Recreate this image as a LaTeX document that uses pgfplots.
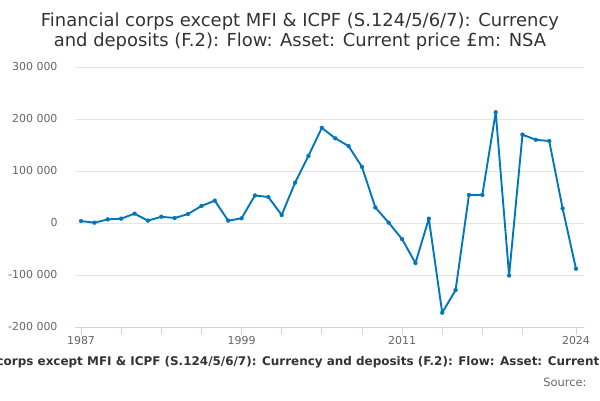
\documentclass[border=0pt]{standalone}
\usepackage{pgfplots}
\pgfplotsset{compat=1.18}
\usepackage{fontspec}
\setmainfont{DejaVu Sans}
\definecolor{linecol}{HTML}{0077BD}
\definecolor{titlecol}{HTML}{333333}
\definecolor{labcol}{HTML}{666666}
\definecolor{gridcol}{HTML}{E6E6E6}
\definecolor{axcol}{HTML}{CCD6EB}
\begin{document}
\begin{tikzpicture}[x=1bp,y=1bp]
\path[use as bounding box] (0,0) rectangle (600,400);
\clip (0,0) rectangle (600,400);
\node[text=titlecol,font=\fontsize{18}{22}\selectfont] at (300,378) {Financial corps except MFI \& ICPF (S.124/5/6/7): Currency};
\node[text=titlecol,font=\fontsize{18}{22}\selectfont] at (300,358) {and deposits (F.2): Flow: Asset: Current price £m: NSA};
\begin{axis}[
  at={(75bp,73bp)}, anchor=south west,
  width=509bp, height=260bp, scale only axis,
  xmin=1986.55, xmax=2024.6,
  ymin=-200000, ymax=300000,
  scaled y ticks=false,
  axis x line*=bottom,
  axis y line*=left,
  y axis line style={draw=none},
  x axis line style={draw=axcol, line width=0.8pt, -},
  xtick={1987,1990,1993,1996,1999,2002,2005,2008,2011,2014,2017,2020,2024},
  xticklabels={1987,,,,1999,,,,2011,,,,2024},
  tick align=outside,
  major tick length=8bp,
  xtick style={draw=axcol, line width=0.8pt},
  ytick={-200000,-100000,0,100000,200000,300000},
  yticklabels={-200 000,-100 000,0,100 000,200 000,300 000},
  ymajorgrids, grid style={draw=gridcol, line width=0.8pt},
  ytick style={draw=none},
  ticklabel style={text=labcol, font=\fontsize{11}{13}\selectfont},
  xticklabel style={yshift=2bp},
  yticklabel style={xshift=-6bp},
  clip=false,
]
\addplot[linecol, line width=1.9pt, line join=round, mark=*, mark size=2pt, mark options={fill=linecol, draw=linecol, line width=0.2pt}] coordinates {
(1987,3800) (1988,600) (1989,7000) (1990,8300) (1991,18000) (1992,4500)
(1993,12000) (1994,9600) (1995,17300) (1996,32700) (1997,43000) (1998,4500)
(1999,9000) (2000,53000) (2001,50000) (2002,15400) (2003,77500) (2004,129000)
(2005,183000) (2006,163000) (2007,148000) (2008,108000) (2009,30000) (2010,600)
(2011,-31000) (2012,-77000) (2013,8300) (2014,-172500) (2015,-129000) (2016,54000)
(2017,54000) (2018,213000) (2019,-101000) (2020,170000) (2021,160000) (2022,157700)
(2023,28000) (2024,-88000)
};
\end{axis}
\node[text=titlecol,font=\bfseries\fontsize{12}{14}\selectfont] at (316,38) {Financial corps except MFI \& ICPF (S.124/5/6/7): Currency and deposits (F.2): Flow: Asset: Current price £m: NSA};
\node[text=labcol,font=\fontsize{11.5}{14}\selectfont,anchor=east] at (590,18) {Source:};
\end{tikzpicture}
\end{document}
